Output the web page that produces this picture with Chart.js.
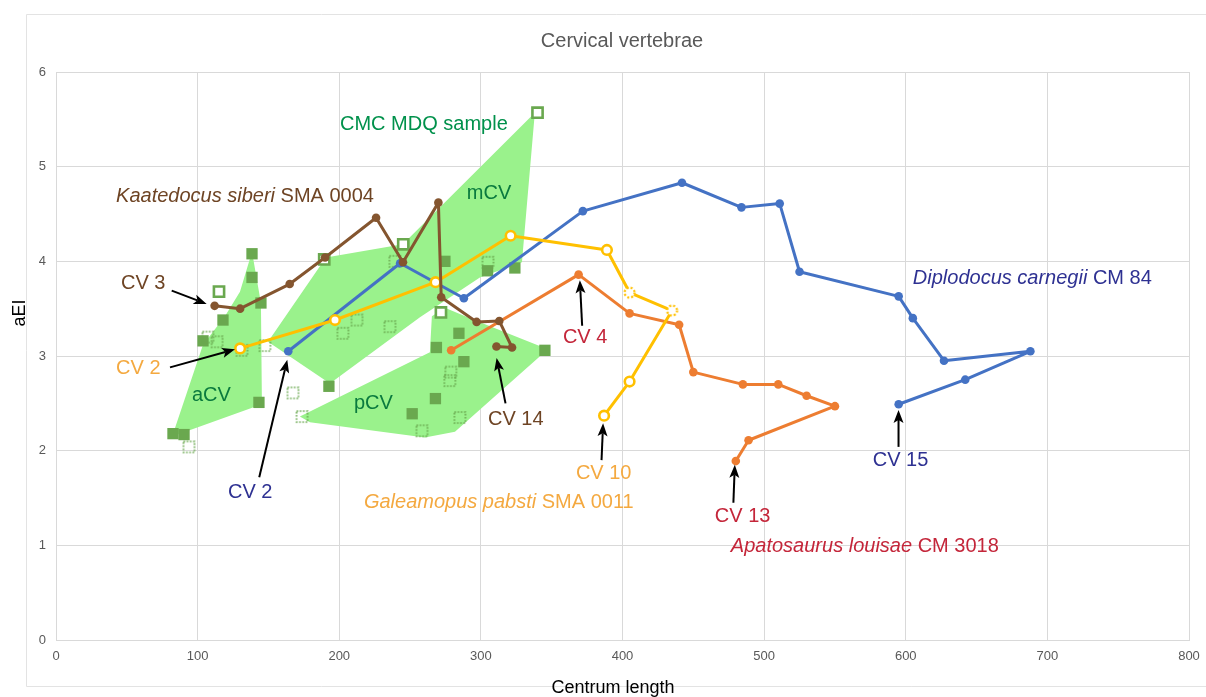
<!DOCTYPE html>
<html>
<head>
<meta charset="utf-8">
<script src="https://cdn.jsdelivr.net/npm/chart.js@4.4.1/dist/chart.umd.min.js"></script>
<style>
  html, body { margin: 0; padding: 0; background: #fff; }
</style>
</head>
<body>
<canvas id="chart" width="1206" height="697"></canvas>
<script>
// axes
const xTicks = [0, 100, 200, 300, 400, 500, 600, 700, 800];
const yTicks = [0, 1, 2, 3, 4, 5, 6];

// Diplodocus carnegii CM 84 (CV 2 - CV 15)
const diplodocusX = [164, 243, 288, 372, 442, 484, 511, 525, 595, 605, 627, 688, 642, 595];
const diplodocusY = [3.05, 3.98, 3.61, 4.53, 4.83, 4.57, 4.61, 3.89, 3.63, 3.40, 2.95, 3.05, 2.75, 2.49];

// Apatosaurus louisae CM 3018 (CV 3 - CV 13)
const apatosaurusX = [279, 369, 405, 440, 450, 485, 510, 530, 550, 489, 480];
const apatosaurusY = [3.06, 3.86, 3.45, 3.33, 2.83, 2.70, 2.70, 2.58, 2.47, 2.11, 1.89];

// Galeamopus pabsti SMA 0011 (CV 2 - CV 10), 6th and 7th reconstructed
const galeamopusX = [130, 197, 268, 321, 389, 405, 435, 405, 387];
const galeamopusY = [3.08, 3.38, 3.78, 4.27, 4.12, 3.67, 3.48, 2.73, 2.37];
const galeamopusEstimated = [false, false, false, false, false, true, true, false, false];

// Kaatedocus siberi SMA 0004 (CV 3 - CV 14)
const kaatedocusX = [112, 130, 165, 190, 226, 245, 270, 272, 297, 313, 322, 311];
const kaatedocusY = [3.53, 3.50, 3.76, 4.04, 4.46, 3.99, 4.62, 3.62, 3.36, 3.37, 3.09, 3.10];

// CMC MDQ sample
const filledX = [138.4, 138.4, 144.7, 117.9, 103.8, 143.3, 82.6, 90.4, 192.7, 274.6, 304.7, 324.0, 284.5, 268.6, 288.0, 267.9, 251.5, 345.2];
const filledY = [4.08, 3.83, 3.56, 3.38, 3.16, 2.51, 2.18, 2.17, 2.68, 4.00, 3.90, 3.93, 3.24, 3.09, 2.94, 2.55, 2.39, 3.06];
const openX = [115.1, 189.4, 245.2, 340.0, 271.8];
const openY = [3.68, 4.02, 4.18, 5.57, 3.46];
const dottedX = [107.3, 113.7, 131.3, 147.5, 167.3, 173.7, 93.9, 202.6, 212.5, 235.8, 239.3, 305.0, 278.8, 278.1, 285.2, 258.4];
const dottedY = [3.20, 3.15, 3.06, 3.11, 2.61, 2.36, 2.04, 3.24, 3.38, 3.31, 4.00, 3.99, 2.83, 2.74, 2.35, 2.21];

// region outlines (aCV, mCV, pCV)
const acvX = [138.4, 144.7, 145.4, 82.0, 103.8, 119.3, 129.9];
const acvY = [4.10, 3.56, 2.49, 2.15, 3.12, 3.42, 3.68];
const mcvX = [149.7, 190.6, 244.9, 338.1, 329.0, 299.3, 257.0, 193.4];
const mcvY = [3.15, 4.04, 4.18, 5.57, 3.99, 3.83, 3.41, 2.71];
const pcvX = [172.2, 264.0, 265.4, 274.6, 292.3, 347.3, 281.7, 260.5, 179.3];
const pcvY = [2.36, 3.04, 3.42, 3.51, 3.40, 3.07, 2.20, 2.14, 2.30];

const FONT = '"Liberation Sans", Arial, sans-serif';
const BLUE = '#4472C4', ORANGE = '#ED7D31', GOLD = '#FFC000', BROWN = '#84552F';
const MARK = '#6AA84F', AREA = '#9AF28C';

function pts(xs, ys) { return xs.map((x, i) => ({ x: x, y: ys[i] })); }
function loop(xs, ys) { const p = pts(xs, ys); p.push(p[0]); return p; }

function dashedCircle(color) {
  const c = document.createElement('canvas');
  c.width = c.height = 15;
  const g = c.getContext('2d');
  g.fillStyle = '#fff';
  g.beginPath(); g.arc(7.5, 7.5, 5, 0, Math.PI * 2); g.fill();
  g.setLineDash([2, 2]); g.strokeStyle = color; g.lineWidth = 2.2; g.stroke();
  return c;
}
function dottedSquare(color) {
  const c = document.createElement('canvas');
  c.width = c.height = 15;
  const g = c.getContext('2d');
  g.setLineDash([1.6, 1.6]); g.strokeStyle = color; g.lineWidth = 1.6;
  g.strokeRect(2, 2, 11, 11);
  return c;
}
const dashCircle = dashedCircle(GOLD);
const dotSquare = dottedSquare(MARK);

// text labels and arrows, in data units
const labels = [
  { parts: [['CMC MDQ sample', false]], x: 200.5, y: 5.45, color: '#00914B' },
  { parts: [['Kaatedocus siberi', true], [' SMA 0004', false]], x: 42.4, y: 4.69, color: '#6E4424' },
  { parts: [['mCV', false]], x: 290.1, y: 4.72, color: '#0A7A3E' },
  { parts: [['Diplodocus carnegii', true], [' CM 84', false]], x: 605.0, y: 3.82, color: '#2E3192' },
  { parts: [['CV 3', false]], x: 45.9, y: 3.77, color: '#6E4424' },
  { parts: [['CV 2', false]], x: 42.4, y: 2.87, color: '#F4A940' },
  { parts: [['aCV', false]], x: 96.0, y: 2.58, color: '#0A7A3E' },
  { parts: [['CV 4', false]], x: 357.9, y: 3.20, color: '#C4263A' },
  { parts: [['pCV', false]], x: 210.4, y: 2.50, color: '#0A7A3E' },
  { parts: [['CV 14', false]], x: 305.0, y: 2.33, color: '#6E4424' },
  { parts: [['CV 2', false]], x: 121.4, y: 1.56, color: '#2E3192' },
  { parts: [['CV 10', false]], x: 367.1, y: 1.76, color: '#F4A940' },
  { parts: [['Galeamopus pabsti', true], [' SMA 0011', false]], x: 217.4, y: 1.45, color: '#F4A940' },
  { parts: [['CV 15', false]], x: 576.7, y: 1.90, color: '#2E3192' },
  { parts: [['CV 13', false]], x: 465.2, y: 1.30, color: '#C4263A' },
  { parts: [['Apatosaurus louisae', true], [' CM 3018', false]], x: 476.5, y: 0.99, color: '#C4263A' }
];
const arrows = [
  [[81.7, 3.69], [106.4, 3.55]],   // CV 3
  [[80.5, 2.88], [126.4, 3.07]],   // CV 2 Galeamopus
  [[143.5, 1.72], [163.3, 2.96]],  // CV 2 Diplodocus
  [[371.5, 3.32], [369.9, 3.80]],  // CV 4
  [[317.4, 2.50], [311.1, 2.98]],  // CV 14
  [[385.2, 1.90], [386.3, 2.29]],  // CV 10
  [[478.3, 1.45], [479.3, 1.85]],  // CV 13
  [[594.9, 2.04], [594.9, 2.43]]   // CV 15
];

const decor = {
  id: 'decor',
  beforeDraw(chart) {
    const ctx = chart.ctx;
    ctx.save();
    ctx.fillStyle = '#fff';
    ctx.fillRect(0, 0, chart.width, chart.height);
    ctx.strokeStyle = '#e3e3e3';
    ctx.lineWidth = 1;
    ctx.beginPath();
    ctx.moveTo(1206, 14.5); ctx.lineTo(26.5, 14.5); ctx.lineTo(26.5, 686.5); ctx.lineTo(1206, 686.5);
    ctx.stroke();
    ctx.restore();
  },
  afterDraw(chart) {
    const ctx = chart.ctx;
    const sx = chart.scales.x, sy = chart.scales.y;
    ctx.save();
    // arrows
    ctx.strokeStyle = '#000'; ctx.fillStyle = '#000'; ctx.lineWidth = 2;
    arrows.forEach(a => {
      const x0 = sx.getPixelForValue(a[0][0]), y0 = sy.getPixelForValue(a[0][1]);
      const x1 = sx.getPixelForValue(a[1][0]), y1 = sy.getPixelForValue(a[1][1]);
      const ang = Math.atan2(y1 - y0, x1 - x0);
      const hl = 13, hw = 5;
      const bx = x1 - Math.cos(ang) * hl, by = y1 - Math.sin(ang) * hl;
      ctx.beginPath(); ctx.moveTo(x0, y0); ctx.lineTo(bx + Math.cos(ang) * 3, by + Math.sin(ang) * 3); ctx.stroke();
      ctx.beginPath();
      ctx.moveTo(x1, y1);
      ctx.lineTo(bx - Math.sin(ang) * hw, by + Math.cos(ang) * hw);
      ctx.lineTo(bx + Math.cos(ang) * 3, by + Math.sin(ang) * 3);
      ctx.lineTo(bx + Math.sin(ang) * hw, by - Math.cos(ang) * hw);
      ctx.closePath(); ctx.fill();
    });
    // labels
    ctx.textBaseline = 'middle';
    ctx.textAlign = 'left';
    labels.forEach(l => {
      let x = sx.getPixelForValue(l.x);
      const y = sy.getPixelForValue(l.y);
      ctx.fillStyle = l.color;
      l.parts.forEach(p => {
        ctx.font = (p[1] ? 'italic ' : '') + '20px ' + FONT;
        ctx.fillText(p[0], x, y);
        x += ctx.measureText(p[0]).width;
      });
    });
    // titles
    ctx.textAlign = 'center';
    ctx.fillStyle = '#595959';
    ctx.font = '20px ' + FONT;
    ctx.fillText('Cervical vertebrae', 622, 41);
    ctx.fillStyle = '#000';
    ctx.font = '18px ' + FONT;
    ctx.fillText('Centrum length', 613, 688);
    ctx.translate(20, 313);
    ctx.rotate(-Math.PI / 2);
    ctx.fillText('aEI', 0, 0);
    ctx.restore();
  }
};

const lineSet = (label, xs, ys, color, order, extra) => Object.assign({
  label: label, data: pts(xs, ys), borderColor: color, backgroundColor: color,
  borderWidth: 3, borderJoinStyle: 'round', pointRadius: 4.3, pointBorderWidth: 0, pointBackgroundColor: color,
  tension: 0, fill: false, order: order
}, extra || {});

const areaSet = (label, xs, ys) => ({
  label: label, data: loop(xs, ys), borderWidth: 0, borderColor: AREA,
  backgroundColor: AREA, fill: 'shape', pointRadius: 0, tension: 0, order: 30
});

new Chart(document.getElementById('chart'), {
  type: 'line',
  data: {
    datasets: [
      lineSet('Kaatedocus siberi SMA 0004', kaatedocusX, kaatedocusY, BROWN, 1),
      lineSet('Galeamopus pabsti SMA 0011', galeamopusX, galeamopusY, GOLD, 2, {
        pointRadius: 4.8, pointBorderWidth: 2.6, pointBorderColor: GOLD, pointBackgroundColor: '#fff',
        pointStyle: galeamopusEstimated.map(e => e ? dashCircle : 'circle')
      }),
      lineSet('Apatosaurus louisae CM 3018', apatosaurusX, apatosaurusY, ORANGE, 3),
      lineSet('Diplodocus carnegii CM 84', diplodocusX, diplodocusY, BLUE, 4),
      { label: 'CMC MDQ open', data: pts(openX, openY), showLine: false, pointStyle: 'rect',
        pointRadius: 7.2, pointBorderWidth: 2.6, pointBorderColor: MARK, pointBackgroundColor: '#fff', order: 10 },
      { label: 'CMC MDQ dotted', data: pts(dottedX, dottedY), showLine: false, pointStyle: dotSquare,
        pointRadius: 6, order: 11 },
      { label: 'CMC MDQ sample', data: pts(filledX, filledY), showLine: false, pointStyle: 'rect',
        pointRadius: 8, pointBorderWidth: 0, pointBackgroundColor: MARK, order: 12 },
      areaSet('aCV', acvX, acvY),
      areaSet('mCV', mcvX, mcvY),
      areaSet('pCV', pcvX, pcvY)
    ]
  },
  options: {
    responsive: false,
    animation: false,
    devicePixelRatio: 1,
    layout: { padding: { top: 72, right: 17, left: 0, bottom: 0 } },
    plugins: { legend: { display: false }, title: { display: false }, tooltip: { enabled: false } },
    scales: {
      x: {
        type: 'linear', min: xTicks[0], max: xTicks[xTicks.length - 1],
        afterBuildTicks: s => { s.ticks = xTicks.map(v => ({ value: v })); },
        afterFit: s => { s.height = 57; s.paddingLeft = 0; s.paddingRight = 0; },
        grid: { color: '#d9d9d9', drawTicks: false },
        border: { color: '#d9d9d9' },
        ticks: { color: '#595959', font: { family: FONT, size: 13 }, padding: 9 }
      },
      y: {
        type: 'linear', min: yTicks[0], max: yTicks[yTicks.length - 1],
        afterBuildTicks: s => { s.ticks = yTicks.map(v => ({ value: v })); },
        afterFit: s => { s.width = 56; s.paddingTop = 0; s.paddingBottom = 0; },
        grid: { color: '#d9d9d9', drawTicks: false },
        border: { color: '#d9d9d9' },
        ticks: { color: '#595959', font: { family: FONT, size: 13 }, padding: 10 }
      }
    }
  },
  plugins: [decor]
});
</script>
</body>
</html>
